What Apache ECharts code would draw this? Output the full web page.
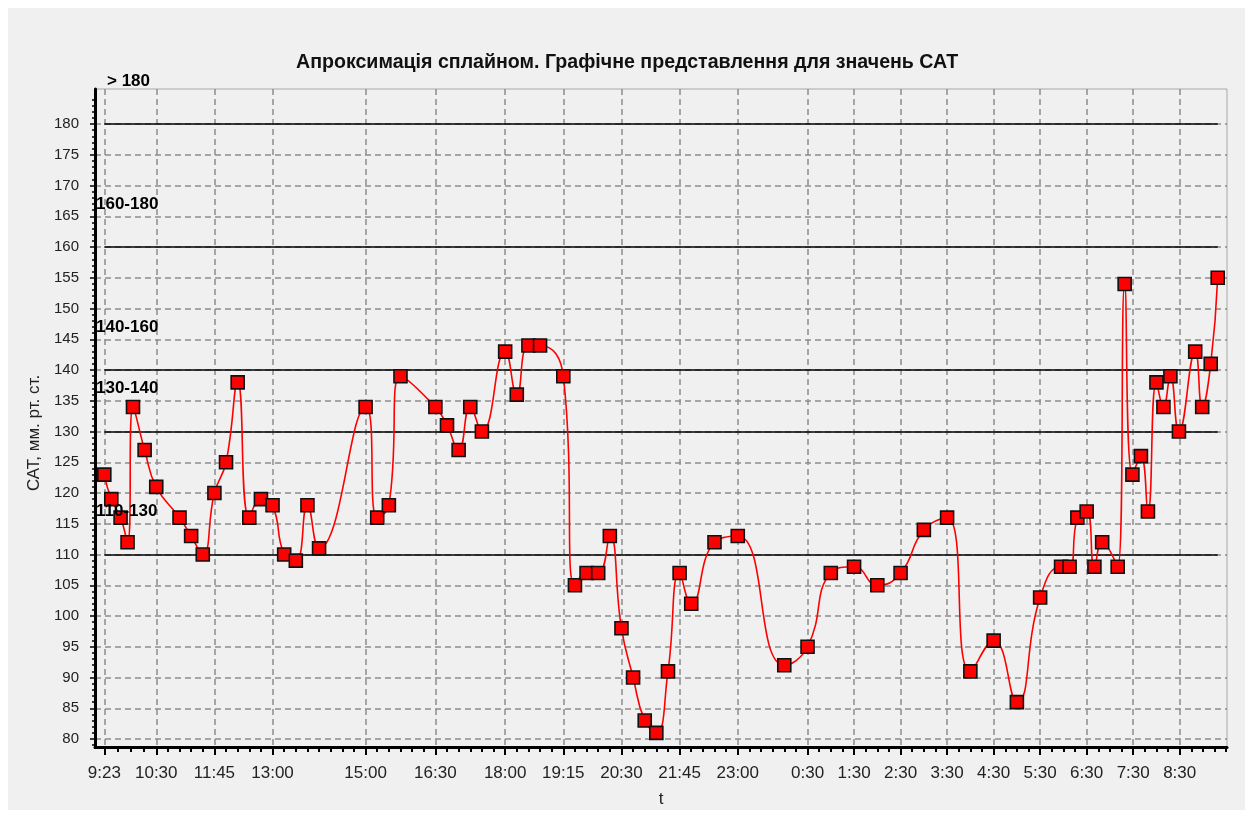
<!DOCTYPE html>
<html>
<head>
<meta charset="utf-8">
<title>САТ</title>
<script src="https://cdn.jsdelivr.net/npm/echarts@6/dist/echarts.min.js"></script>
<style>
  html, body { margin: 0; padding: 0; background: #fff; }
  #chart { position: absolute; left: 8px; top: 8px; width: 1237px; height: 802px; background: #f0f0f0; }
</style>
</head>
<body>
<div id="chart"></div>
<script>
// час вимірювання (доба з 9:23 до 9:19 наступного дня)
const times = [
  "9:23", "9:32", "9:44", "9:53", "10:00", "10:15", "10:30", "11:00", "11:15", "11:30",
  "11:45", "12:00", "12:15", "12:30", "12:45", "13:00", "13:15", "13:30", "13:45", "14:00",
  "15:00", "15:15", "15:30", "15:45", "16:30", "16:45", "17:00", "17:15", "17:30", "18:00",
  "18:15", "18:30", "18:45", "19:15", "19:30", "19:45", "20:00", "20:15", "20:30", "20:45",
  "21:00", "21:15", "21:30", "21:45", "22:00", "22:30", "23:00", "0:00", "0:30", "1:00",
  "1:30", "2:00", "2:30", "3:00", "3:30", "4:00", "4:30", "5:00", "5:30", "5:57",
  "6:08", "6:18", "6:30", "6:40", "6:50", "7:10", "7:19", "7:29", "7:40", "7:49",
  "8:00", "8:09", "8:18", "8:29", "8:50", "8:59", "9:10", "9:19"
];
// значення САТ, мм рт. ст.
const sat = [
  123, 119, 116, 112, 134, 127, 121, 116, 113, 110,
  120, 125, 138, 116, 119, 118, 110, 109, 118, 111,
  134, 116, 118, 139, 134, 131, 127, 134, 130, 143,
  136, 144, 144, 139, 105, 107, 107, 113, 98, 90,
  83, 81, 91, 107, 102, 112, 113, 92, 95, 107,
  108, 105, 107, 114, 116, 91, 96, 86, 103, 108,
  108, 116, 117, 108, 112, 108, 154, 123, 126, 117,
  138, 134, 139, 130, 143, 134, 141, 155
];
// підписи осі t
const tickTimes = ["9:23", "10:30", "11:45", "13:00", "15:00", "16:30", "18:00", "19:15", "20:30", "21:45",
  "23:00", "0:30", "1:30", "2:30", "3:30", "4:30", "5:30", "6:30", "7:30", "8:30"];
// підписи осі САТ
const yTicks = [80, 85, 90, 95, 100, 105, 110, 115, 120, 125, 130, 135, 140, 145, 150, 155, 160, 165, 170, 175, 180];
// межі зон
const levels = [110, 130, 140, 160, 180];
const zoneNames = ["110-130", "130-140", "140-160", "160-180", "> 180"];

const START = 9 * 60 + 23;
function toMin(s) {
  const p = s.split(":").map(Number);
  let v = p[0] * 60 + p[1];
  if (v < START) v += 1440;
  return v - START;
}
function fmt(m) {
  const v = (Math.round(m) + START) % 1440;
  const mm = v % 60;
  return Math.floor(v / 60) + ":" + (mm < 10 ? "0" : "") + mm;
}

const xMin = -12, xMax = 1448;
const yMin = 78.7, yMax = 185.7;

const majorX = tickTimes.map(toMin);
// дрібні поділки між підписами (~15 хв)
const minorX = [];
for (let i = 0; i < majorX.length - 1; i++) {
  const a = majorX[i], b = majorX[i + 1];
  const n = Math.max(1, Math.round((b - a) / 15));
  for (let k = 1; k < n; k++) minorX.push(a + (b - a) * k / n);
}
for (let v = majorX[majorX.length - 1] + 15; v < xMax; v += 15) minorX.push(v);
const minorY = [];
for (let v = 79; v <= 185; v++) if (v % 5 !== 0) minorY.push(v);

const points = times.map((t, i) => [toMin(t), sat[i]]);
const x0 = toMin(times[0]), x1 = toMin(times[times.length - 1]);

const chart = echarts.init(document.getElementById("chart"));
const gridLine = { color: "#8c8c8c", width: 1.5, type: [6, 4] };
const FONT = "Liberation Sans, Arial, sans-serif";

chart.setOption({
  animation: false,
  backgroundColor: "#f0f0f0",
  title: {
    text: "Апроксимація сплайном. Графічне представлення для значень САТ",
    left: 283,
    top: 40,
    textStyle: { fontSize: 19.6, fontWeight: "bold", color: "#111", fontFamily: FONT }
  },
  grid: {
    left: 87, right: 18, top: 81, bottom: 63,
    outerBoundsMode: "none",
    show: true, borderColor: "#a8a8a8", borderWidth: 1
  },
  xAxis: [
    {
      type: "value", min: xMin, max: xMax,
      name: "t", nameLocation: "middle", nameGap: 44,
      nameTextStyle: { fontSize: 17, color: "#222", fontFamily: FONT },
      axisLine: { show: true, onZero: false, lineStyle: { color: "#000", width: 3 } },
      axisTick: { show: true, customValues: majorX, length: 8, lineStyle: { color: "#000", width: 2 } },
      axisLabel: {
        customValues: majorX, margin: 18, fontSize: 17, color: "#222", fontFamily: FONT,
        formatter: (v) => fmt(v)
      },
      splitLine: { show: true, lineStyle: gridLine }
    },
    {
      type: "value", min: xMin, max: xMax, position: "bottom",
      axisLine: { show: false, onZero: false },
      axisTick: { show: true, customValues: minorX, length: 5, lineStyle: { color: "#000", width: 2 } },
      axisLabel: { show: false },
      splitLine: { show: false }
    }
  ],
  yAxis: [
    {
      type: "value", min: yMin, max: yMax,
      name: "САТ, мм. рт. ст.", nameLocation: "middle", nameGap: 50,
      nameTextStyle: { fontSize: 17, color: "#222", fontFamily: FONT, padding: [0, 30, 0, 0] },
      axisLine: { show: true, onZero: false, lineStyle: { color: "#000", width: 3 } },
      axisTick: { show: true, customValues: yTicks, length: 5, lineStyle: { color: "#000", width: 1.5 } },
      axisLabel: { customValues: yTicks, margin: 16, fontSize: 15, color: "#222", fontFamily: FONT },
      splitLine: { show: true, lineStyle: gridLine }
    },
    {
      type: "value", min: yMin, max: yMax, position: "left",
      axisLine: { show: false, onZero: false },
      axisTick: { show: true, customValues: minorY, length: 3, lineStyle: { color: "#000", width: 1.5 } },
      axisLabel: { show: false },
      splitLine: { show: false }
    }
  ],
  series: [
    {
      name: "САТ",
      type: "line",
      data: points,
      smooth: 0.5,
      symbol: "rect",
      symbolSize: 13,
      z: 3,
      lineStyle: { color: "#ff0000", width: 1.6 },
      itemStyle: { color: "#ff0000", borderColor: "#111", borderWidth: 1.6 },
      markLine: {
        silent: true,
        symbol: "none",
        z: 2,
        label: { show: false },
        lineStyle: { color: "#000", width: 1.5, type: "solid" },
        data: levels.map((v) => [{ coord: [x0, v] }, { coord: [x1, v] }])
      }
    }
  ]
});

// підписи зон біля осі
const labels = zoneNames.map((name, i) => {
  const p = chart.convertToPixel({ xAxisIndex: 0, yAxisIndex: 0 }, [xMin, levels[i] + 7]);
  const top = i === zoneNames.length - 1;
  return {
    type: "text",
    x: p[0] + (top ? 12 : 1),
    y: p[1],
    z: 100,
    style: {
      text: name,
      font: "bold 17px 'Liberation Sans', Arial, sans-serif",
      fill: "#000",
      verticalAlign: "middle"
    }
  };
});
chart.setOption({ graphic: labels });
</script>
</body>
</html>
